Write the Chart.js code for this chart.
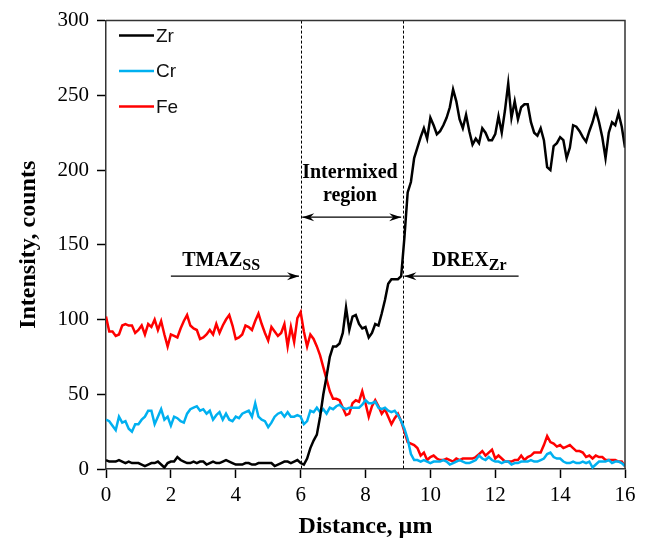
<!DOCTYPE html>
<html>
<head>
<meta charset="utf-8">
<title>EDS line scan</title>
<script src="https://cdn.jsdelivr.net/npm/chart.js@4"></script>
<style>
  html, body { margin: 0; padding: 0; background: #fff; }
  canvas { display: block; }
</style>
</head>
<body>
<canvas id="lineScan" width="652" height="541"></canvas>
<script>
// line scan sampled every 0.1 µm from 0 to 16 µm
const stepUm = 0.1;

const zr = [
  6, 5, 5, 5, 6, 5, 4, 5, 4, 4,
  4, 3, 2, 3, 4, 4, 5, 3, 1, 4,
  5, 5, 8, 6, 5, 4, 4, 5, 4, 5,
  5, 3, 4, 5, 4, 4, 5, 6, 5, 4,
  3, 3, 3, 4, 4, 3, 3, 4, 4, 4,
  4, 4, 2, 3, 4, 5, 5, 4, 5, 6,
  4, 3, 7, 14, 19, 23, 35, 50, 62, 75,
  82, 82, 84, 91, 108, 93, 102, 103, 97, 94,
  95, 88, 91, 97, 96, 104, 113, 124, 127, 127,
  127, 129, 155, 185, 192, 208, 215, 222, 228, 221,
  235, 230, 224, 226, 230, 235, 242, 254, 246, 234,
  228, 237, 226, 217, 221, 218, 228, 225, 220, 220,
  224, 236, 225, 240, 258, 235, 246, 234, 242, 244,
  244, 232, 225, 223, 228, 220, 202, 200, 216, 218,
  222, 220, 208, 215, 230, 229, 226, 222, 219, 226,
  232, 240, 232, 222, 208, 225, 232, 230, 238, 229,
  215
];

const cr = [
  33, 32, 29, 26, 35, 31, 32, 27, 25, 30,
  30, 33, 35, 39, 39, 30, 35, 40, 33, 35,
  29, 35, 34, 32, 31, 37, 40, 41, 42, 39,
  40, 37, 39, 33, 36, 38, 33, 37, 33, 32,
  35, 34, 37, 38, 39, 35, 44, 35, 33, 32,
  28, 31, 35, 37, 38, 35, 38, 35, 35, 36,
  35, 30, 32, 39, 38, 41, 38, 40, 37, 41,
  40, 42, 43, 41, 40, 41, 41, 41, 41, 43,
  46, 44, 44, 45, 41, 40, 41, 39, 38, 39,
  36, 32, 27, 20, 10, 6, 6, 5, 6, 5,
  4, 5, 5, 5, 6, 5, 3, 4, 5, 6,
  5, 4, 4, 5, 6, 9, 7, 6, 8, 6,
  5, 5, 4, 5, 5, 3, 4, 4, 5, 5,
  5, 6, 5, 5, 6, 7, 10, 11, 8, 7,
  7, 5, 4, 4, 5, 4, 4, 5, 4, 5,
  1, 3, 5, 5, 5, 6, 4, 5, 5, 4,
  2
];

const fe = [
  102, 92, 92, 89, 90, 96, 97, 96, 96, 91,
  93, 96, 90, 97, 95, 100, 93, 99, 90, 82,
  90, 89, 88, 94, 99, 103, 96, 94, 93, 87,
  88, 90, 93, 90, 97, 91, 96, 100, 103, 96,
  87, 88, 90, 96, 95, 93, 99, 104, 97, 91,
  86, 95, 92, 89, 91, 97, 82, 95, 85, 101,
  105, 92, 82, 90, 87, 82, 76, 68, 60, 52,
  47, 47, 46, 41, 36, 37, 44, 46, 45, 52,
  44, 35, 42, 46, 42, 37, 40, 35, 30, 34,
  37, 32, 25, 18, 17, 16, 14, 9, 11, 6,
  8, 9, 7, 6, 6, 7, 6, 5, 7, 6,
  7, 7, 7, 7, 8, 10, 12, 9, 11, 13,
  7, 9, 7, 5, 5, 5, 6, 6, 9, 6,
  8, 9, 11, 11, 11, 16, 22, 18, 17, 15,
  16, 14, 15, 16, 14, 12, 12, 11, 8, 9,
  7, 9, 8, 8, 6, 6, 6, 6, 5, 5,
  2
];

// region boundaries (µm)
const boundaries = [6.0, 9.15];

const serif = '"Liberation Serif", "Times New Roman", serif';
const sans = '"Liberation Sans", Arial, sans-serif';

const toPoints = arr => arr.map((v, i) => ({ x: +(i * stepUm).toFixed(1), y: v }));

const series = [
  { label: 'Zr', data: zr, color: '#000000' },
  { label: 'Cr', data: cr, color: '#00B0F0' },
  { label: 'Fe', data: fe, color: '#FF0000' }
];

// frame, boundary lines, region labels and the legend
const decorations = {
  id: 'decorations',
  beforeDatasetsDraw(chart) {
    const { ctx, chartArea: a, scales: { x } } = chart;
    ctx.save();
    ctx.strokeStyle = '#000';
    ctx.lineWidth = 1;
    ctx.setLineDash([3, 2]);
    boundaries.forEach(b => {
      const px = Math.round(x.getPixelForValue(b)) + 0.5;
      ctx.beginPath();
      ctx.moveTo(px, a.top);
      ctx.lineTo(px, a.bottom);
      ctx.stroke();
    });
    ctx.restore();
  },
  afterDraw(chart) {
    const { ctx, chartArea: a, scales: { x, y } } = chart;
    ctx.save();

    // top and right edges of the box
    ctx.strokeStyle = '#333';
    ctx.lineWidth = 1.5;
    ctx.beginPath();
    ctx.moveTo(a.left, a.top);
    ctx.lineTo(a.right, a.top);
    ctx.lineTo(a.right, a.bottom);
    ctx.stroke();

    const arrow = (x1, x2, yv, both) => {
      const p1 = x.getPixelForValue(x1), p2 = x.getPixelForValue(x2);
      const py = y.getPixelForValue(yv);
      ctx.strokeStyle = '#000';
      ctx.fillStyle = '#000';
      ctx.lineWidth = 1.2;
      ctx.beginPath();
      ctx.moveTo(p1, py);
      ctx.lineTo(p2, py);
      ctx.stroke();
      const head = (tip, dir) => {
        ctx.beginPath();
        ctx.moveTo(tip, py);
        ctx.lineTo(tip - dir * 12, py - 4);
        ctx.lineTo(tip - dir * 8, py);
        ctx.lineTo(tip - dir * 12, py + 4);
        ctx.closePath();
        ctx.fill();
      };
      head(p2, Math.sign(p2 - p1));
      if (both) head(p1, Math.sign(p1 - p2));
    };

    const subLabel = (main, sub, xv, yv) => {
      const mainFont = 'bold 20px ' + serif;
      const subFont = 'bold 16px ' + serif;
      ctx.font = mainFont;
      const w1 = ctx.measureText(main).width;
      ctx.font = subFont;
      const w2 = ctx.measureText(sub).width;
      const cx = x.getPixelForValue(xv), py = y.getPixelForValue(yv);
      const start = cx - (w1 + w2) / 2;
      ctx.fillStyle = '#000';
      ctx.textAlign = 'left';
      ctx.textBaseline = 'alphabetic';
      ctx.font = mainFont;
      ctx.fillText(main, start, py);
      ctx.font = subFont;
      ctx.fillText(sub, start + w1, py + 4);
    };

    // intermixed region
    ctx.fillStyle = '#000';
    ctx.font = 'bold 20px ' + serif;
    ctx.textAlign = 'center';
    ctx.textBaseline = 'middle';
    ctx.fillText('Intermixed', x.getPixelForValue(7.52), y.getPixelForValue(198));
    ctx.fillText('region', x.getPixelForValue(7.52), y.getPixelForValue(183));
    arrow(6.05, 9.1, 168.5, true);

    subLabel('TMAZ', 'SS', 3.55, 135.5);
    arrow(2.0, 5.95, 129, false);

    subLabel('DREX', 'Zr', 11.2, 135.5);
    arrow(12.72, 9.2, 129, false);

    // legend
    ctx.font = '19px ' + sans;
    ctx.textAlign = 'left';
    ctx.textBaseline = 'middle';
    series.forEach((s, i) => {
      const ly = a.top + 15 + i * 35.5;
      ctx.strokeStyle = s.color;
      ctx.lineWidth = 2.5;
      ctx.beginPath();
      ctx.moveTo(a.left + 13, ly);
      ctx.lineTo(a.left + 48, ly);
      ctx.stroke();
      ctx.fillStyle = '#111';
      ctx.fillText(s.label, a.left + 50, ly + 1);
    });

    ctx.restore();
  }
};

const ctx = document.getElementById('lineScan');
new Chart(ctx, {
  type: 'line',
  data: {
    datasets: series.map(s => ({
      label: s.label,
      data: toPoints(s.data),
      borderColor: s.color,
      backgroundColor: s.color,
      borderWidth: 2.5,
      pointRadius: 0,
      tension: 0,
      fill: false
    }))
  },
  options: {
    responsive: false,
    animation: false,
    layout: { padding: { top: 17, right: 27, left: 0, bottom: 0 } },
    plugins: {
      legend: { display: false },
      tooltip: { enabled: false }
    },
    scales: {
      x: {
        type: 'linear',
        min: 0,
        max: 16,
        afterFit: s => { s.height = 72; },
        ticks: { stepSize: 2, color: '#000', font: { family: serif, size: 21 }, padding: 5, maxRotation: 0 },
        grid: { drawOnChartArea: false, tickLength: 9, tickColor: '#000', tickWidth: 1.5 },
        border: { color: '#333', width: 1.5 },
        title: { display: true, text: 'Distance, µm', color: '#000', font: { family: serif, size: 24, weight: 'bold' }, padding: 0 }
      },
      y: {
        min: 0,
        max: 300,
        afterFit: s => { s.width = 106; },
        ticks: { stepSize: 50, color: '#000', font: { family: serif, size: 21 }, padding: 8 },
        grid: { drawOnChartArea: false, tickLength: 9, tickColor: '#000', tickWidth: 1.5 },
        border: { color: '#333', width: 1.5 },
        title: { display: true, text: 'Intensity, counts', color: '#000', font: { family: serif, size: 24, weight: 'bold' }, padding: { top: 14 } }
      }
    }
  },
  plugins: [decorations]
});
</script>
</body>
</html>
